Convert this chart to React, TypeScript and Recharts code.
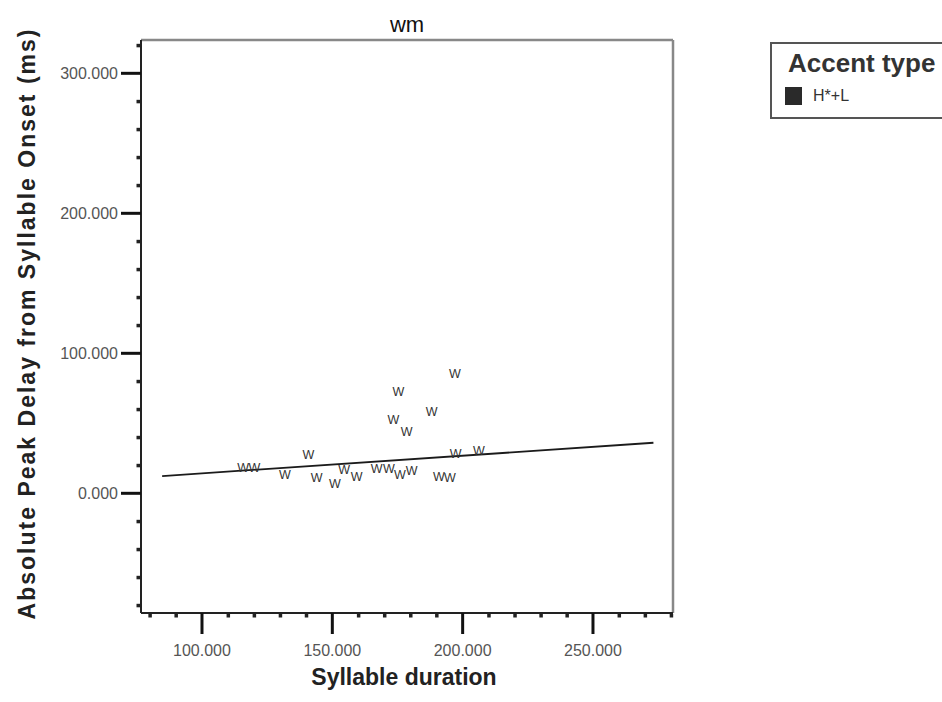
import { ComposedChart, Scatter, XAxis, YAxis, ReferenceLine, Legend } from 'recharts';

/**
 * Scatter of peak delay vs syllable duration for speaker "wm", with linear fit
 */

const FONT = '"Liberation Sans", Arial, sans-serif';

// syllable duration (ms) and absolute peak delay (ms) per token
const syllableDuration = [
  115.8, 120.1, 131.8, 140.8, 144.0, 151.0, 154.5, 159.3, 167.0, 171.7, 175.9,
  180.4, 175.4, 173.4, 178.5, 188.1, 197.0, 190.9, 195.1, 197.3, 206.2,
];
const peakDelay = [
  18.3, 18.3, 13.1, 27.4, 11.1, 7.1, 17.1, 11.9, 17.6, 17.9, 13.1,
  16.6, 72.6, 52.7, 44.0, 58.6, 85.7, 12.0, 11.5, 28.6, 30.9,
];

// fit line end points
const fitDuration = [84.7, 273.2];
const fitDelay = [12.3, 36.1];

const xMajorTicks = [100, 150, 200, 250];
const xMinorTicks = [80, 90, 110, 120, 130, 140, 160, 170, 180, 190, 210, 220, 230, 240, 260, 270, 280];
const yMajorTicks = [0, 100, 200, 300];
const yMinorTicks = [-80, -60, -40, -20, 20, 40, 60, 80, 120, 140, 160, 180, 220, 240, 260, 280, 320];

const X_DOMAIN: [number, number] = [76.6, 280.7];
const Y_DOMAIN: [number, number] = [-85.5, 323.8];

const points = syllableDuration.map((x, i) => ({ x, y: peakDelay[i] }));
const fit = fitDuration.map((x, i) => ({ x, y: fitDelay[i] }));

const fmt = (v: number) => v.toFixed(3);

function XTick({ x, y, payload }: any) {
  const v = payload.value;
  if (xMajorTicks.includes(v)) {
    return (
      <g>
        <line x1={x} x2={x} y1={y} y2={y + 21} stroke="#111" strokeWidth={3} />
        <text x={x} y={y + 43} textAnchor="middle" fontSize={16} fontFamily={FONT} fill="#555">
          {fmt(v)}
        </text>
      </g>
    );
  }
  return <rect x={x - 1.5} y={y + 1} width={3.5} height={3.5} fill="#222" />;
}

function YTick({ x, y, payload }: any) {
  const v = payload.value;
  if (yMajorTicks.includes(v)) {
    return (
      <g>
        <line x1={x - 20} x2={x} y1={y} y2={y} stroke="#111" strokeWidth={3} />
        <text x={x - 23} y={y + 5.5} textAnchor="end" fontSize={16} fontFamily={FONT} fill="#555">
          {fmt(v)}
        </text>
      </g>
    );
  }
  return <rect x={x - 4.5} y={y - 1.5} width={3.5} height={3.5} fill="#222" />;
}

function WMarker({ cx, cy }: any) {
  return (
    <text x={cx} y={cy} dy="0.36em" textAnchor="middle" fontSize={12.5} fontFamily={FONT} fill="#333">
      W
    </text>
  );
}

function XTitle({ viewBox }: any) {
  const cx = viewBox.x + viewBox.width / 2 - 3;
  return (
    <text x={cx} y={viewBox.y + 72} textAnchor="middle" fontSize={23} fontWeight="bold" fontFamily={FONT} fill="#222">
      Syllable duration
    </text>
  );
}

function YTitle({ viewBox }: any) {
  const cy = viewBox.y + viewBox.height / 2 - 2;
  return (
    <text
      x={27}
      y={cy}
      transform={`rotate(-90, 27, ${cy})`}
      dy="0.35em"
      textAnchor="middle"
      fontSize={23}
      fontWeight="bold"
      fontFamily={FONT}
      fill="#222"
      textLength={590}
      lengthAdjust="spacing"
    >
      Absolute Peak Delay from Syllable Onset (ms)
    </text>
  );
}

function AccentLegend({ payload }: any) {
  const items = (payload || []).filter((p: any) => p.type !== 'none');
  return (
    <div
      style={{
        position: 'relative',
        width: 180,
        height: 77,
        boxSizing: 'border-box',
        border: '2px solid #555',
        background: '#fff',
        fontFamily: FONT,
      }}
    >
      <div style={{ position: 'absolute', left: 16, top: 6, fontSize: 26, lineHeight: '26px', fontWeight: 'bold', color: '#333', whiteSpace: 'nowrap' }}>
        Accent type
      </div>
      {items.map((entry: any) => (
        <div key={entry.value}>
          <div style={{ position: 'absolute', left: 13, top: 43, width: 17, height: 18, background: entry.color }} />
          <div style={{ position: 'absolute', left: 41, top: 44, fontSize: 16, lineHeight: '16px', color: '#333', whiteSpace: 'nowrap' }}>
            {entry.value}
          </div>
        </div>
      ))}
    </div>
  );
}

export default function App() {
  return (
    <div style={{ position: 'absolute', left: 0, top: 0, width: 942, height: 702, overflow: 'hidden', background: '#fff' }}>
      <ComposedChart width={942} height={702} margin={{ top: 40, right: 269, bottom: 0, left: 0 }}>
        <XAxis
          type="number"
          dataKey="x"
          domain={X_DOMAIN}
          allowDataOverflow
          ticks={[...xMinorTicks, ...xMajorTicks].sort((a, b) => a - b)}
          interval={0}
          tickSize={0}
          tickMargin={0}
          tickLine={false}
          tick={<XTick />}
          axisLine={{ stroke: '#222', strokeWidth: 2 }}
          height={89}
          label={<XTitle />}
        />
        <YAxis
          type="number"
          dataKey="y"
          domain={Y_DOMAIN}
          allowDataOverflow
          ticks={[...yMinorTicks, ...yMajorTicks].sort((a, b) => a - b)}
          interval={0}
          tickSize={0}
          tickMargin={0}
          tickLine={false}
          tick={<YTick />}
          axisLine={{ stroke: '#222', strokeWidth: 2 }}
          width={141}
          label={<YTitle />}
        />
        <ReferenceLine
          y={Y_DOMAIN[1]}
          stroke="#888"
          strokeWidth={2.5}
          label={{ value: 'wm', position: 'top', offset: 8, fontSize: 22, fill: '#111', fontFamily: FONT }}
        />
        <ReferenceLine x={X_DOMAIN[1]} stroke="#888" strokeWidth={2.5} />
        <Scatter
          name="fit"
          data={fit}
          line={{ stroke: '#1b1b1b', strokeWidth: 1.8 }}
          shape={() => <g />}
          legendType="none"
          isAnimationActive={false}
        />
        <Scatter
          name="H*+L"
          data={points}
          fill="#2a2a2a"
          shape={<WMarker />}
          legendType="square"
          isAnimationActive={false}
        />
        <Legend
          layout="vertical"
          align="center"
          verticalAlign="middle"
          content={<AccentLegend />}
          wrapperStyle={{ left: 770, top: 42, width: 180, height: 77 }}
        />
      </ComposedChart>
    </div>
  );
}
